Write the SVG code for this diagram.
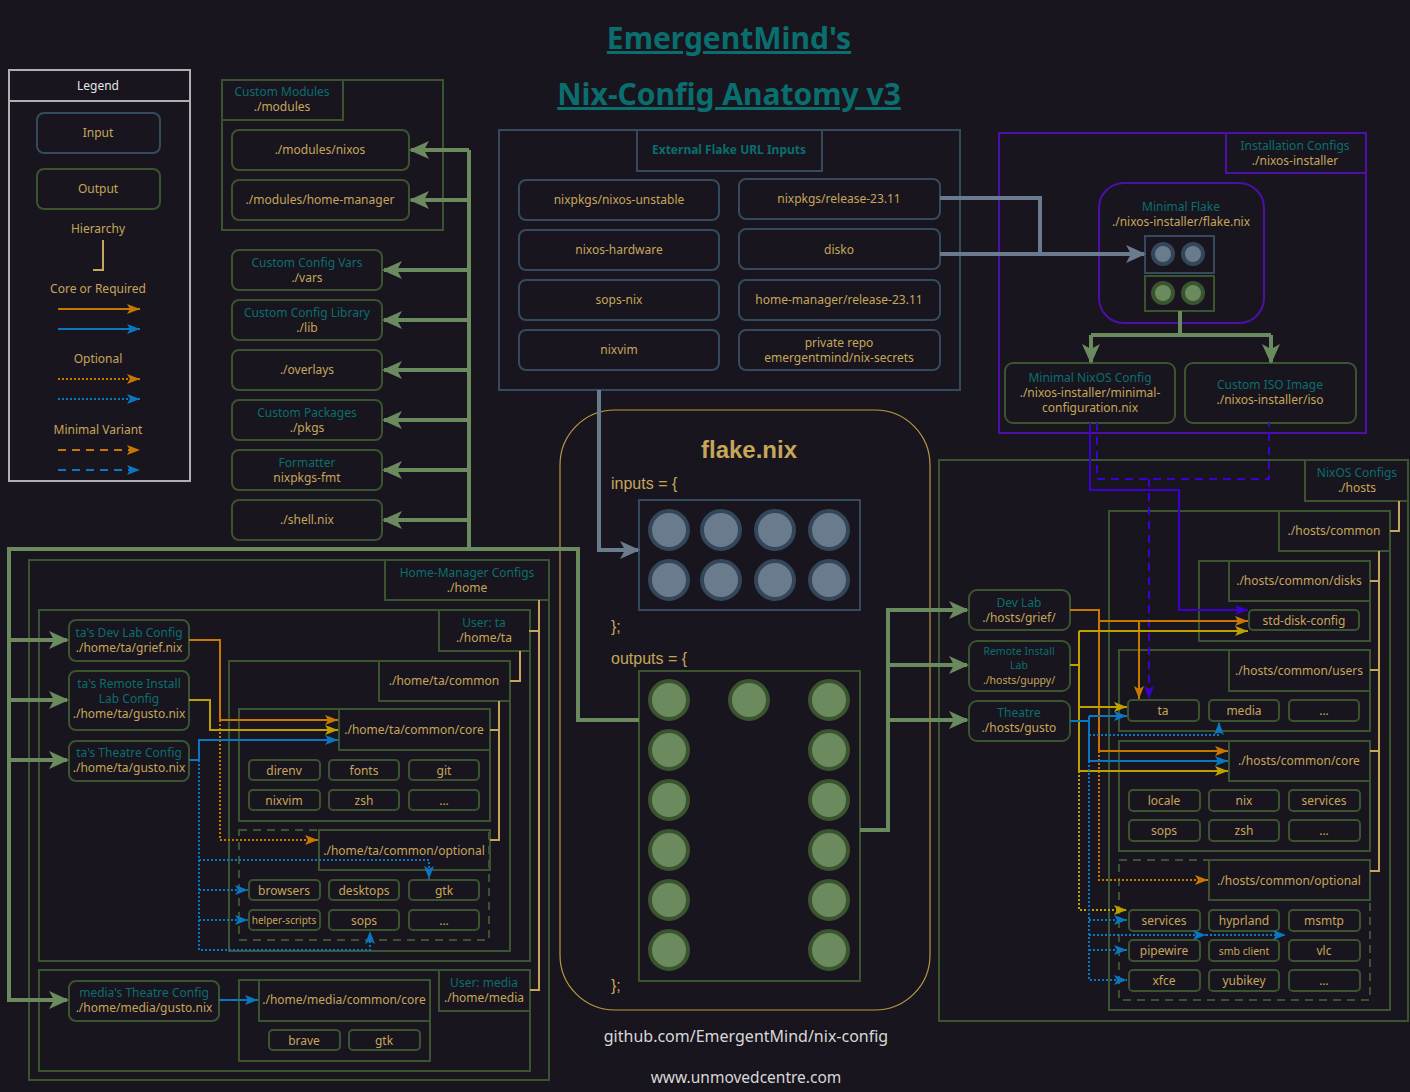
<svg xmlns="http://www.w3.org/2000/svg" width="1410" height="1092" viewBox="0 0 1410 1092">
<style>
text{font-family:"Noto Sans","Liberation Sans",sans-serif;font-size:12px;text-anchor:middle}
.g{fill:#c6a65a}.t{fill:#0b6e6e}.w{fill:#e6e6e6}
.sm{font-size:10.5px}
.n{fill:none;stroke:#3b5430;stroke-width:2}
.ni{fill:none;stroke:#364a5e;stroke-width:2}
.c{fill:none;stroke:#3b5430;stroke-width:2}
.cd{fill:none;stroke:#3b5430;stroke-width:2;stroke-dasharray:8 6}
.hier{fill:none;stroke:#c6a65a;stroke-width:2}
.gl{fill:none;stroke:#6b8a5e;stroke-width:4}
.sl{fill:none;stroke:#6b7b8e;stroke-width:4}
.o{fill:none;stroke:#c87800;stroke-width:2}
.y{fill:none;stroke:#bfa000;stroke-width:2}
.b{fill:none;stroke:#0a78c0;stroke-width:2}
.dot{stroke-dasharray:2 2}
.dash{stroke-dasharray:8 6}
.p{fill:none;stroke:#3c00d0;stroke-width:2}
.code{font-family:"Liberation Sans",Arial,sans-serif;font-size:16px;text-anchor:start;fill:#c6a65a}
.ci{fill:#6b7b8e;stroke:#34475a;stroke-width:4}
.co{fill:#6b8a5e;stroke:#3b5430;stroke-width:4}
</style>
<defs>
<marker id="aG" viewBox="0 0 20 18" refX="18" refY="9" markerWidth="20" markerHeight="18" orient="auto" markerUnits="userSpaceOnUse"><path d="M0,0 L20,9 L0,18 L5,9z" fill="#6b8a5e"/></marker>
<marker id="aS" viewBox="0 0 20 18" refX="18" refY="9" markerWidth="20" markerHeight="18" orient="auto" markerUnits="userSpaceOnUse"><path d="M0,0 L20,9 L0,18 L5,9z" fill="#6b7b8e"/></marker>
<marker id="aO" viewBox="0 0 13 10" refX="13" refY="5" markerWidth="13" markerHeight="10" orient="auto" markerUnits="userSpaceOnUse"><path d="M0,0 L13,5 L0,10 L3,5z" fill="#c87800"/></marker>
<marker id="aY" viewBox="0 0 13 10" refX="13" refY="5" markerWidth="13" markerHeight="10" orient="auto" markerUnits="userSpaceOnUse"><path d="M0,0 L13,5 L0,10 L3,5z" fill="#bfa000"/></marker>
<marker id="aB" viewBox="0 0 13 10" refX="13" refY="5" markerWidth="13" markerHeight="10" orient="auto" markerUnits="userSpaceOnUse"><path d="M0,0 L13,5 L0,10 L3,5z" fill="#0a78c0"/></marker>
<marker id="aP" viewBox="0 0 13 10" refX="13" refY="5" markerWidth="13" markerHeight="10" orient="auto" markerUnits="userSpaceOnUse"><path d="M0,0 L13,5 L0,10 L3,5z" fill="#3c00d0"/></marker>
</defs>
<rect x="0" y="0" width="1410" height="1092" fill="#18151e"/>

<g id="title">
<text x="729" y="49" style="font-size:30px;font-weight:bold;fill:#0b6e6e;text-decoration:underline">EmergentMind's</text>
<text x="729" y="105" style="font-size:30px;font-weight:bold;fill:#0b6e6e;text-decoration:underline">Nix-Config Anatomy v3</text>
</g>

<g id="legend">
<rect x="9" y="70" width="181" height="411" fill="none" stroke="#b0b0b0" stroke-width="2"/>
<line x1="9" y1="101" x2="190" y2="101" stroke="#b0b0b0" stroke-width="2"/>
<text x="98" y="90" class="w">Legend</text>
<rect x="37" y="113" width="123" height="40" rx="7" class="ni"/>
<text x="98" y="137" class="g">Input</text>
<rect x="37" y="169" width="123" height="40" rx="7" class="n"/>
<text x="98" y="193" class="g">Output</text>
<text x="98" y="233" class="g">Hierarchy</text>
<path d="M103,240 V270 H93" class="hier"/>
<text x="98" y="293" class="g">Core or Required</text>
<path d="M58,309 H140" class="o" marker-end="url(#aO)"/>
<path d="M58,329 H140" class="b" marker-end="url(#aB)"/>
<text x="98" y="363" class="g">Optional</text>
<path d="M58,379 H140" class="o dot" marker-end="url(#aO)"/>
<path d="M58,399 H140" class="b dot" marker-end="url(#aB)"/>
<text x="98" y="434" class="g">Minimal Variant</text>
<path d="M58,450 H140" class="o dash" marker-end="url(#aO)"/>
<path d="M58,470 H140" class="b dash" marker-end="url(#aB)"/>
</g>

<g id="custom-modules">
<rect x="222" y="80" width="221" height="150" class="c"/>
<rect x="222" y="80" width="121" height="40" class="c"/>
<text x="282" y="96" class="t">Custom Modules</text>
<text x="282" y="111" class="g">./modules</text>
</g>
<g id="modules-nixos"><rect x="232" y="130" width="177" height="40" rx="7" class="n"/><text x="320" y="154" class="g">./modules/nixos</text></g>
<g id="modules-hm"><rect x="232" y="180" width="177" height="40" rx="7" class="n"/><text x="320" y="204" class="g">./modules/home-manager</text></g>
<g id="vars"><rect x="232" y="250" width="150" height="40" rx="7" class="n"/><text x="307" y="267" class="t">Custom Config Vars</text><text x="307" y="282" class="g">./vars</text></g>
<g id="lib"><rect x="232" y="300" width="150" height="40" rx="7" class="n"/><text x="307" y="317" class="t">Custom Config Library</text><text x="307" y="332" class="g">./lib</text></g>
<g id="overlays"><rect x="232" y="350" width="150" height="40" rx="7" class="n"/><text x="307" y="374" class="g">./overlays</text></g>
<g id="pkgs"><rect x="232" y="400" width="150" height="40" rx="7" class="n"/><text x="307" y="417" class="t">Custom Packages</text><text x="307" y="432" class="g">./pkgs</text></g>
<g id="formatter"><rect x="232" y="450" width="150" height="40" rx="7" class="n"/><text x="307" y="467" class="t">Formatter</text><text x="307" y="482" class="g">nixpkgs-fmt</text></g>
<g id="shell"><rect x="232" y="500" width="150" height="40" rx="7" class="n"/><text x="307" y="524" class="g">./shell.nix</text></g>

<g id="external-inputs">
<rect x="499" y="130" width="461" height="260" class="ni"/>
<rect x="637" y="130" width="185" height="41" class="ni"/>
<text x="729" y="154" class="t" style="font-weight:bold;font-size:12px">External Flake URL Inputs</text>
</g>
<g id="in-unstable"><rect x="519" y="180" width="200" height="40" rx="7" class="ni"/><text x="619" y="204" class="g">nixpkgs/nixos-unstable</text></g>
<g id="in-hardware"><rect x="519" y="230" width="200" height="40" rx="7" class="ni"/><text x="619" y="254" class="g">nixos-hardware</text></g>
<g id="in-sops"><rect x="519" y="280" width="200" height="40" rx="7" class="ni"/><text x="619" y="304" class="g">sops-nix</text></g>
<g id="in-nixvim"><rect x="519" y="330" width="200" height="40" rx="7" class="ni"/><text x="619" y="354" class="g">nixvim</text></g>
<g id="in-release"><rect x="739" y="179" width="201" height="40" rx="7" class="ni"/><text x="839" y="203" class="g">nixpkgs/release-23.11</text></g>
<g id="in-disko"><rect x="739" y="229" width="201" height="40" rx="7" class="ni"/><text x="839" y="254" class="g">disko</text></g>
<g id="in-hm"><rect x="739" y="280" width="201" height="40" rx="7" class="ni"/><text x="839" y="304" class="g">home-manager/release-23.11</text></g>
<g id="in-secrets"><rect x="739" y="330" width="201" height="40" rx="7" class="ni"/><text x="839" y="347" class="g">private repo</text><text x="839" y="362" class="g">emergentmind/nix-secrets</text></g>

<g id="installer">
<rect x="999" y="133" width="367" height="300" fill="none" stroke="#4c10a8" stroke-width="2"/>
<rect x="1226" y="133" width="140" height="40" fill="none" stroke="#4c10a8" stroke-width="2"/>
<text x="1295" y="150" class="t">Installation Configs</text>
<text x="1295" y="165" class="g">./nixos-installer</text>
</g>
<g id="minimal-flake">
<rect x="1099" y="183" width="165" height="140" rx="25" fill="none" stroke="#4c10a8" stroke-width="2"/>
<text x="1181" y="211" class="t">Minimal Flake</text>
<text x="1181" y="226" class="g">./nixos-installer/flake.nix</text>
<rect x="1145" y="236" width="69" height="37" class="ni"/>
<circle cx="1163" cy="254" r="10" class="ci" stroke-width="3"/>
<circle cx="1193" cy="254" r="10" class="ci" stroke-width="3"/>
<rect x="1145" y="276" width="69" height="35" class="n"/>
<circle cx="1163" cy="293" r="10" class="co" stroke-width="3"/>
<circle cx="1193" cy="293" r="10" class="co" stroke-width="3"/>
</g>
<g id="minimal-config"><rect x="1005" y="363" width="170" height="60" rx="8" class="n"/><text x="1090" y="382" class="t">Minimal NixOS Config</text><text x="1090" y="397" class="g">./nixos-installer/minimal-</text><text x="1090" y="412" class="g">configuration.nix</text></g>
<g id="iso"><rect x="1185" y="363" width="171" height="60" rx="8" class="n"/><text x="1270" y="389" class="t">Custom ISO Image</text><text x="1270" y="404" class="g">./nixos-installer/iso</text></g>

<g id="flake">
<rect x="560" y="410" width="370" height="600" rx="55" fill="none" stroke="#b89a40" stroke-width="1.2"/>
<text x="749" y="458" style="font-family:'Liberation Sans',Arial,sans-serif;font-size:24px;font-weight:bold;fill:#c6a65a">flake.nix</text>
<text x="611" y="489" class="code">inputs = {</text>
<rect x="639" y="500" width="221" height="110" class="ni"/>
<circle cx="669" cy="530" r="19" class="ci"/><circle cx="721" cy="530" r="19" class="ci"/><circle cx="775" cy="530" r="19" class="ci"/><circle cx="829" cy="530" r="19" class="ci"/>
<circle cx="669" cy="580" r="19" class="ci"/><circle cx="721" cy="580" r="19" class="ci"/><circle cx="775" cy="580" r="19" class="ci"/><circle cx="829" cy="580" r="19" class="ci"/>
<text x="611" y="632" class="code">};</text>
<text x="611" y="664" class="code">outputs = {</text>
<rect x="639" y="671" width="221" height="310" class="n"/>
<circle cx="669" cy="700" r="19" class="co"/><circle cx="749" cy="700" r="19" class="co"/><circle cx="829" cy="700" r="19" class="co"/>
<circle cx="669" cy="750" r="19" class="co"/><circle cx="829" cy="750" r="19" class="co"/>
<circle cx="669" cy="800" r="19" class="co"/><circle cx="829" cy="800" r="19" class="co"/>
<circle cx="669" cy="850" r="19" class="co"/><circle cx="829" cy="850" r="19" class="co"/>
<circle cx="669" cy="900" r="19" class="co"/><circle cx="829" cy="900" r="19" class="co"/>
<circle cx="669" cy="950" r="19" class="co"/><circle cx="829" cy="950" r="19" class="co"/>
<text x="611" y="991" class="code">};</text>
</g>

<g id="home-manager">
<rect x="29" y="560" width="520" height="520" class="c"/>
<rect x="385" y="560" width="164" height="40" class="c"/>
<text x="467" y="577" class="t">Home-Manager Configs</text>
<text x="467" y="592" class="g">./home</text>
</g>
<g id="user-ta">
<rect x="39" y="610" width="491" height="351" class="c"/>
<rect x="439" y="610" width="91" height="41" class="c"/>
<text x="484" y="627" class="t">User: ta</text>
<text x="484" y="642" class="g">./home/ta</text>
</g>
<g id="ta-common">
<rect x="229" y="661" width="281" height="290" class="c"/>
<rect x="379" y="661" width="131" height="40" class="c"/>
<text x="444" y="685" class="g">./home/ta/common</text>
</g>
<g id="ta-core">
<rect x="239" y="709" width="251" height="112" class="c"/>
<rect x="339" y="709" width="151" height="41" class="c"/>
<text x="414" y="734" class="g">./home/ta/common/core</text>
<rect x="249" y="760" width="71" height="20" rx="4" class="n"/><text x="284" y="775" class="g">direnv</text>
<rect x="329" y="760" width="70" height="20" rx="4" class="n"/><text x="364" y="775" class="g">fonts</text>
<rect x="409" y="760" width="70" height="20" rx="4" class="n"/><text x="444" y="775" class="g">git</text>
<rect x="249" y="790" width="71" height="20" rx="4" class="n"/><text x="284" y="805" class="g">nixvim</text>
<rect x="329" y="790" width="70" height="20" rx="4" class="n"/><text x="364" y="805" class="g">zsh</text>
<rect x="409" y="790" width="70" height="20" rx="4" class="n"/><text x="444" y="805" class="g">...</text>
</g>
<g id="ta-optional">
<rect x="239" y="830" width="250" height="110" class="cd"/>
<rect x="319" y="830" width="171" height="40" class="c"/>
<text x="404" y="855" class="g">./home/ta/common/optional</text>
<rect x="249" y="880" width="71" height="20" rx="4" class="n"/><text x="284" y="895" class="g">browsers</text>
<rect x="329" y="880" width="70" height="20" rx="4" class="n"/><text x="364" y="895" class="g">desktops</text>
<rect x="409" y="880" width="70" height="20" rx="4" class="n"/><text x="444" y="895" class="g">gtk</text>
<rect x="249" y="910" width="71" height="20" rx="4" class="n"/><text x="284" y="924" class="g" style="font-size:10px">helper-scripts</text>
<rect x="329" y="910" width="70" height="20" rx="4" class="n"/><text x="364" y="925" class="g">sops</text>
<rect x="409" y="910" width="70" height="20" rx="4" class="n"/><text x="444" y="925" class="g">...</text>
</g>
<g id="ta-grief"><rect x="69" y="620" width="120" height="41" rx="7" class="n"/><text x="129" y="637" class="t">ta's Dev Lab Config</text><text x="129" y="652" class="g">./home/ta/grief.nix</text></g>
<g id="ta-guppy"><rect x="69" y="671" width="120" height="59" rx="7" class="n"/><text x="129" y="688" class="t">ta's Remote Install</text><text x="129" y="703" class="t">Lab Config</text><text x="129" y="718" class="g">./home/ta/gusto.nix</text></g>
<g id="ta-gusto"><rect x="69" y="741" width="120" height="40" rx="7" class="n"/><text x="129" y="757" class="t">ta's Theatre Config</text><text x="129" y="772" class="g">./home/ta/gusto.nix</text></g>
<g id="user-media">
<rect x="39" y="970" width="491" height="101" class="c"/>
<rect x="439" y="970" width="91" height="41" class="c"/>
<text x="484" y="987" class="t">User: media</text>
<text x="484" y="1002" class="g">./home/media</text>
</g>
<g id="media-core">
<rect x="239" y="980" width="191" height="81" class="c"/>
<rect x="259" y="980" width="171" height="41" class="c"/>
<text x="344" y="1004" class="g">./home/media/common/core</text>
<rect x="269" y="1030" width="71" height="20" rx="4" class="n"/><text x="304" y="1045" class="g">brave</text>
<rect x="349" y="1030" width="71" height="20" rx="4" class="n"/><text x="384" y="1045" class="g">gtk</text>
</g>
<g id="media-gusto"><rect x="69" y="981" width="150" height="40" rx="7" class="n"/><text x="144" y="997" class="t">media's Theatre Config</text><text x="144" y="1012" class="g">./home/media/gusto.nix</text></g>

<g id="hosts">
<rect x="939" y="460" width="469" height="561" class="c"/>
<rect x="1305" y="460" width="103" height="41" class="c"/>
<text x="1357" y="477" class="t">NixOS Configs</text>
<text x="1357" y="492" class="g">./hosts</text>
</g>
<g id="hosts-common">
<rect x="1109" y="511" width="281" height="499" class="c"/>
<rect x="1279" y="511" width="111" height="40" class="c"/>
<text x="1334" y="535" class="g">./hosts/common</text>
</g>
<g id="hosts-disks">
<rect x="1199" y="561" width="171" height="80" class="c"/>
<rect x="1229" y="561" width="141" height="40" class="c"/>
<text x="1299" y="585" class="g">./hosts/common/disks</text>
<rect x="1249" y="610" width="110" height="20" rx="4" class="n"/><text x="1304" y="625" class="g">std-disk-config</text>
</g>
<g id="hosts-users">
<rect x="1119" y="650" width="251" height="81" class="c"/>
<rect x="1229" y="650" width="141" height="41" class="c"/>
<text x="1299" y="675" class="g">./hosts/common/users</text>
<rect x="1128" y="700" width="71" height="21" rx="4" class="n"/><text x="1163" y="715" class="g">ta</text>
<rect x="1209" y="700" width="70" height="21" rx="4" class="n"/><text x="1244" y="715" class="g">media</text>
<rect x="1289" y="700" width="70" height="21" rx="4" class="n"/><text x="1324" y="715" class="g">...</text>
</g>
<g id="hosts-core">
<rect x="1119" y="741" width="251" height="110" class="c"/>
<rect x="1229" y="741" width="141" height="40" class="c"/>
<text x="1299" y="765" class="g">./hosts/common/core</text>
<rect x="1129" y="790" width="71" height="21" rx="4" class="n"/><text x="1164" y="805" class="g">locale</text>
<rect x="1209" y="790" width="70" height="21" rx="4" class="n"/><text x="1244" y="805" class="g">nix</text>
<rect x="1289" y="790" width="71" height="21" rx="4" class="n"/><text x="1324" y="805" class="g">services</text>
<rect x="1129" y="820" width="71" height="21" rx="4" class="n"/><text x="1164" y="835" class="g">sops</text>
<rect x="1209" y="820" width="70" height="21" rx="4" class="n"/><text x="1244" y="835" class="g">zsh</text>
<rect x="1289" y="820" width="71" height="21" rx="4" class="n"/><text x="1324" y="835" class="g">...</text>
</g>
<g id="hosts-optional">
<rect x="1119" y="860" width="251" height="140" class="cd"/>
<rect x="1209" y="860" width="161" height="40" class="c"/>
<text x="1289" y="885" class="g">./hosts/common/optional</text>
<rect x="1129" y="910" width="71" height="21" rx="4" class="n"/><text x="1164" y="925" class="g">services</text>
<rect x="1209" y="910" width="70" height="21" rx="4" class="n"/><text x="1244" y="925" class="g">hyprland</text>
<rect x="1289" y="910" width="71" height="21" rx="4" class="n"/><text x="1324" y="925" class="g">msmtp</text>
<rect x="1129" y="940" width="71" height="21" rx="4" class="n"/><text x="1164" y="955" class="g">pipewire</text>
<rect x="1209" y="940" width="70" height="21" rx="4" class="n"/><text x="1244" y="955" class="g sm">smb client</text>
<rect x="1289" y="940" width="71" height="21" rx="4" class="n"/><text x="1324" y="955" class="g">vlc</text>
<rect x="1129" y="970" width="71" height="21" rx="4" class="n"/><text x="1164" y="985" class="g">xfce</text>
<rect x="1209" y="970" width="70" height="21" rx="4" class="n"/><text x="1244" y="985" class="g">yubikey</text>
<rect x="1289" y="970" width="71" height="21" rx="4" class="n"/><text x="1324" y="985" class="g">...</text>
</g>
<g id="host-grief"><rect x="969" y="590" width="101" height="40" rx="8" class="n"/><text x="1019" y="607" class="t">Dev Lab</text><text x="1019" y="622" class="g">./hosts/grief/</text></g>
<g id="host-guppy"><rect x="969" y="641" width="101" height="50" rx="8" class="n"/><text x="1019" y="655" class="t sm">Remote Install</text><text x="1019" y="669" class="t sm">Lab</text><text x="1019" y="684" class="g sm">./hosts/guppy/</text></g>
<g id="host-gusto"><rect x="969" y="701" width="101" height="40" rx="8" class="n"/><text x="1019" y="717" class="t">Theatre</text><text x="1019" y="732" class="g">./hosts/gusto</text></g>

<g id="footer">
<text x="746" y="1042" style="font-size:16px;fill:#d8d8d8">github.com/EmergentMind/nix-config</text>
<text x="746" y="1083" style="font-size:15.5px;fill:#d8d8d8">www.unmovedcentre.com</text>
</g>

<g id="connectors">
<path d="M539,600 V990 H530 M529,631 H539" class="hier"/>
<path d="M520,651 V681 H510" class="hier"/>
<path d="M499,701 V840 H490 M490,730 H499" class="hier"/>
<path d="M1399,501 V531 H1390" class="hier"/>
<path d="M1379,551 V871 H1370 M1370,581 H1379 M1370,670 H1379 M1370,751 H1379" class="hier"/>
<path d="M469,150 V549" class="gl"/>
<path d="M469,150 H411" class="gl" marker-end="url(#aG)"/>
<path d="M469,200 H411" class="gl" marker-end="url(#aG)"/>
<path d="M469,270 H384" class="gl" marker-end="url(#aG)"/>
<path d="M469,320 H384" class="gl" marker-end="url(#aG)"/>
<path d="M469,370 H384" class="gl" marker-end="url(#aG)"/>
<path d="M469,420 H384" class="gl" marker-end="url(#aG)"/>
<path d="M469,470 H384" class="gl" marker-end="url(#aG)"/>
<path d="M469,520 H384" class="gl" marker-end="url(#aG)"/>
<path d="M639,720 H578 V549 H9 V1000 H67" class="gl" marker-end="url(#aG)"/>
<path d="M9,640 H67" class="gl" marker-end="url(#aG)"/>
<path d="M9,700 H67" class="gl" marker-end="url(#aG)"/>
<path d="M9,760 H67" class="gl" marker-end="url(#aG)"/>
<path d="M860,830 H888 V610 H967" class="gl" marker-end="url(#aG)"/>
<path d="M888,665 H967" class="gl" marker-end="url(#aG)"/>
<path d="M888,720 H967" class="gl" marker-end="url(#aG)"/>
<path d="M1180,311 V335 M1091,335 H1271" class="gl"/>
<path d="M1091,335 V362" class="gl" marker-end="url(#aG)"/>
<path d="M1271,335 V362" class="gl" marker-end="url(#aG)"/>
<path d="M599,390 V550 H638" class="sl" marker-end="url(#aS)"/>
<path d="M940,198 H1040 V254" class="sl"/>
<path d="M940,254 H1144" class="sl" marker-end="url(#aS)"/>
<path d="M1090,423 V490 H1179 V610 H1248" class="p" marker-end="url(#aP)"/>
<path d="M1097,423 V479 H1269 V423" class="p dash"/>
<path d="M1149,479 V699" class="p dash" marker-end="url(#aP)"/>
<path d="M189,640 H220 V720 H338" class="o" marker-end="url(#aO)"/>
<path d="M220,720 V840 H318" class="o dot" marker-end="url(#aO)"/>
<path d="M189,700 H210 V730 H338" class="y" marker-end="url(#aY)"/>
<path d="M189,760 H199 V740 H338" class="b" marker-end="url(#aB)"/>
<path d="M199,760 V950 H370 V931" class="b dot" marker-end="url(#aB)"/>
<path d="M199,860 H429 V879" class="b dot" marker-end="url(#aB)"/>
<path d="M199,890 H248" class="b dot" marker-end="url(#aB)"/>
<path d="M199,920 H248" class="b dot" marker-end="url(#aB)"/>
<path d="M219,1000 H258" class="b" marker-end="url(#aB)"/>
<path d="M1070,610 H1099 V751 H1228" class="o" marker-end="url(#aO)"/>
<path d="M1099,621 H1248" class="o" marker-end="url(#aO)"/>
<path d="M1139,621 V699" class="o" marker-end="url(#aO)"/>
<path d="M1099,751 V880 H1208" class="o dot" marker-end="url(#aO)"/>
<path d="M1070,665 H1079 M1079,631 V771 H1228" class="y" marker-end="url(#aY)"/>
<path d="M1079,631 H1248" class="y" marker-end="url(#aY)"/>
<path d="M1079,707 H1127" class="y" marker-end="url(#aY)"/>
<path d="M1079,771 V910 H1127" class="y dot" marker-end="url(#aY)"/>
<path d="M1070,721 H1089 M1089,716 V761 H1228" class="b" marker-end="url(#aB)"/>
<path d="M1089,716 H1127" class="b" marker-end="url(#aB)"/>
<path d="M1089,735 H1219 V722" class="b dot" marker-end="url(#aB)"/>
<path d="M1089,761 V980 H1127" class="b dot" marker-end="url(#aB)"/>
<path d="M1089,920 H1127" class="b dot" marker-end="url(#aB)"/>
<path d="M1089,950 H1127" class="b dot" marker-end="url(#aB)"/>
<path d="M1089,935 H1206" class="b dot" marker-end="url(#aB)"/>
<path d="M1206,935 H1286" class="b dot" marker-end="url(#aB)"/>
</g>
</svg>
